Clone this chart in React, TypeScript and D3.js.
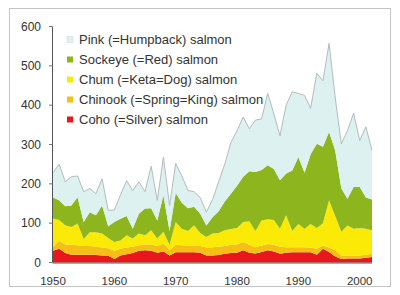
import React from "react";
import * as d3 from "d3";

const years = d3.range(1950, 2003);
const coho = [30,35,24,20,20,20,20,19,18,17, 9,18,21,24,30,31,30,25,28,18, 26,26,26,26,25,18,18,19,22,24, 25,31,25,23,27,31,28,22,25,26, 26,26,26,20,35,27,15,9,10,10, 10,12,14];
const chinook = [10,20,22,25,24,22,22,21,20,19, 21,17,17,16,14,14,16,17,20,14, 19,18,17,17,17,20,21,21,20,21, 21,21,20,16,16,16,17,18,14,13, 13,13,12,15,8,11,16,9,8,8, 8,8,8];
const chum = [72,53,49,45,55,18,35,37,36,26, 22,21,31,21,30,24,36,19,30,13, 58,42,37,52,33,27,35,35,40,40, 42,51,60,41,64,63,63,46,81,41, 59,47,60,53,57,120,87,60,76,68, 70,66,60];
const sockeye = [53,50,48,55,67,43,51,43,71,30, 51,55,49,25,50,68,56,46,93,35, 74,66,58,47,49,29,41,55,73,90, 107,115,127,150,128,137,130,123,106,154, 170,142,177,214,194,174,167,110,68,106, 104,79,78];
const pink = [63,92,62,73,54,77,60,55,68,41, 30,61,90,97,81,43,107,51,97,65, 75,68,45,38,41,34,45,75,95,130, 140,152,108,132,130,183,140,113,174,200, 162,197,117,179,168,225,135,114,173,188, 118,180,125];

const keys = ["coho", "chinook", "chum", "sockeye", "pink"];
const colors: Record<string, string> = {
  coho: "#e8161d",
  chinook: "#f6bf17",
  chum: "#fbe906",
  sockeye: "#8db51e",
  pink: "#ddf1f1",
};
const legendLabels = [
  { key: "pink", label: "Pink (=Humpback) salmon" },
  { key: "sockeye", label: "Sockeye (=Red) salmon" },
  { key: "chum", label: "Chum (=Keta=Dog) salmon" },
  { key: "chinook", label: "Chinook (=Spring=King) salmon" },
  { key: "coho", label: "Coho (=Silver) salmon" },
];
const yTicks = [0, 100, 200, 300, 400, 500, 600];
const xTicks = [1950, 1960, 1970, 1980, 1990, 2000];

export default function App() {
  const table = years.map((year, i) => ({
    year,
    coho: coho[i],
    chinook: chinook[i],
    chum: chum[i],
    sockeye: sockeye[i],
    pink: pink[i],
  }));
  const series = d3.stack<any>().keys(keys)(table);
  const x = d3.scaleLinear().domain([1950, 2002]).range([53, 372]);
  const y = d3.scaleLinear().domain([0, 600]).range([262.5, 26.5]);
  const area = d3
    .area<any>()
    .x((d) => x(d.data.year))
    .y0((d) => y(d[0]))
    .y1((d) => y(d[1]));
  const topLine = d3
    .line<any>()
    .x((d) => x(d.data.year))
    .y((d) => y(d[1]));
  const font = "'Liberation Sans', Arial, sans-serif";
  return (
    <svg
      width={400}
      height={295}
      style={{ position: "absolute", left: 0, top: 0, background: "#fff" }}
    >
      <rect x={9.5} y={8.5} width={381} height={278} fill="#fff" stroke="#c4c4c4" strokeWidth={1} />
      {series.map((s) => (
        <path key={s.key} d={area(s) || ""} fill={colors[s.key]} stroke="none" />
      ))}
      <path d={topLine(series[series.length - 1]) || ""} fill="none" stroke="#b4bcbc" strokeWidth={1} />
      <line x1={52.5} x2={52.5} y1={y(600)} y2={y(0)} stroke="#555" strokeWidth={1} />
      <line x1={52.5} x2={x(2002)} y1={y(0) + 0.5} y2={y(0) + 0.5} stroke="#555" strokeWidth={1} />
      {yTicks.map((t) => (
        <g key={t}>
          <line x1={49} x2={52.5} y1={y(t)} y2={y(t)} stroke="#777" strokeWidth={1} />
          <text
            x={41}
            y={y(t) + 4.2}
            textAnchor="end"
            fontFamily={font}
            fontSize={12}
            fill="#333"
          >
            {t}
          </text>
        </g>
      ))}
      {xTicks.map((t) => (
        <text
          key={t}
          x={x(t)}
          y={285}
          textAnchor="middle"
          fontFamily={font}
          fontSize={11.5}
          fill="#333"
        >
          {t}
        </text>
      ))}
      {legendLabels.map((l, i) => (
        <g key={l.key}>
          <rect
            x={67}
            y={36.5 + i * 20}
            width={6}
            height={6}
            fill={colors[l.key]}
            stroke={l.key === "pink" ? "#c8d8d8" : "none"}
            strokeWidth={0.5}
          />
          <text
            x={79}
            y={44 + i * 20}
            fontFamily={font}
            fontSize={13}
            fill="#333"
          >
            {l.label}
          </text>
        </g>
      ))}
    </svg>
  );
}
